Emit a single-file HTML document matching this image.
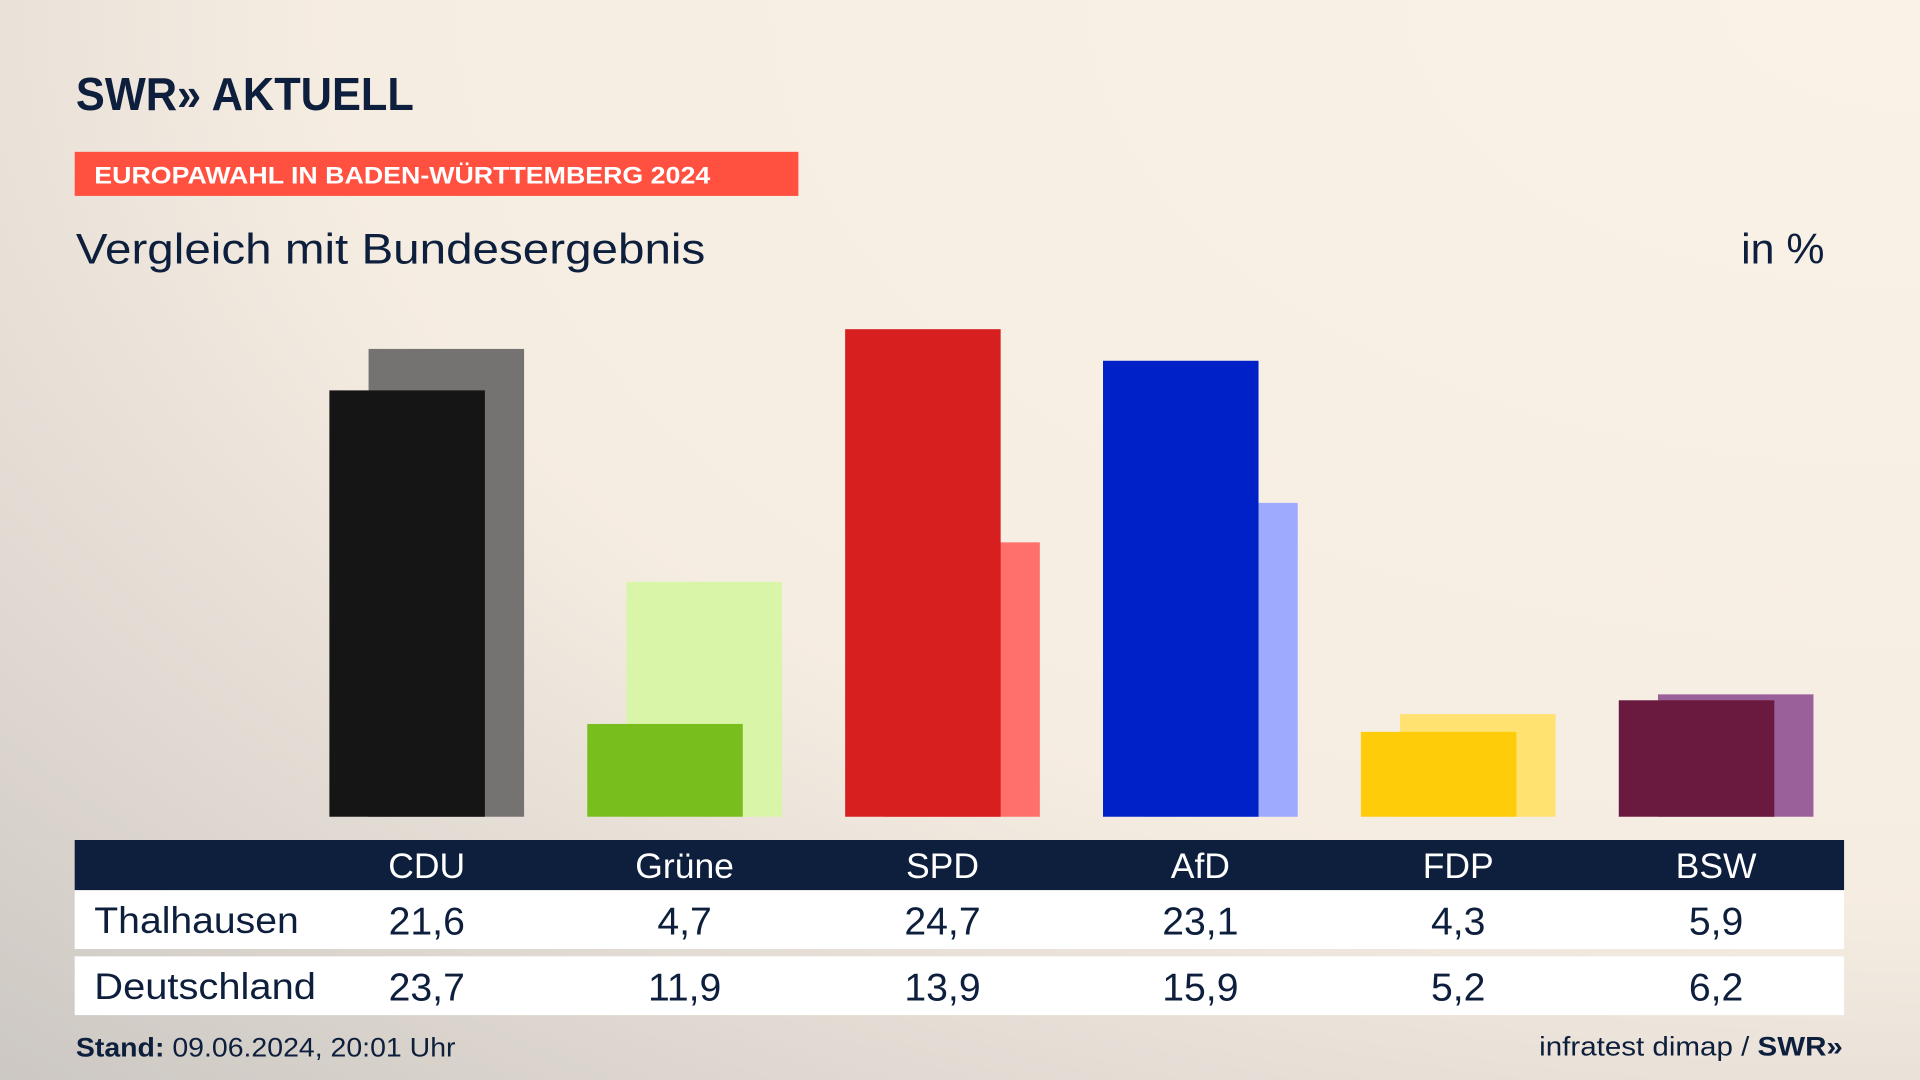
<!DOCTYPE html>
<html><head><meta charset="utf-8"><style>
html,body{margin:0;padding:0;width:1920px;height:1080px;overflow:hidden}
svg{display:block}
text{font-family:"Liberation Sans","DejaVu Sans",sans-serif}
</style></head><body>
<svg id="chart" width="1920" height="1080" viewBox="0 0 1568 882" xmlns="http://www.w3.org/2000/svg">
<defs>
<radialGradient id="bg" cx="1" cy="0" r="1.5">
<stop offset="0" stop-color="#faf2e7"/><stop offset="0.55" stop-color="#f6ede2"/><stop offset="1" stop-color="#c6c2be"/>
</radialGradient>
</defs>
<rect x="0" y="0" width="1568" height="882" fill="url(#bg)"/>
<text x="62" y="90" font-size="38" font-weight="bold" fill="#0d1f3c" textLength="276" lengthAdjust="spacingAndGlyphs">SWR» AKTUELL</text>
<rect x="61" y="124" width="591" height="36" fill="#ff5040"/>
<text x="77" y="150" font-size="20" font-weight="bold" fill="#fff" textLength="503" lengthAdjust="spacingAndGlyphs">EUROPAWAHL IN BADEN-WÜRTTEMBERG 2024</text>
<text x="62" y="215" font-size="35" fill="#0d1f3c" textLength="514" lengthAdjust="spacingAndGlyphs">Vergleich mit Bundesergebnis</text>
<text x="1490" y="215" font-size="35" fill="#0d1f3c" text-anchor="end">in %</text>
<g id="bars"></g>
<rect x="61" y="686" width="1445" height="41" fill="#0d1f3c"/>
<rect x="61" y="727" width="1445" height="48" fill="#fff"/>
<rect x="61" y="781" width="1445" height="48" fill="#fff"/>
<text x="77" y="762" font-size="30" fill="#0d1f3c" textLength="167" lengthAdjust="spacingAndGlyphs">Thalhausen</text>
<text x="77" y="816" font-size="30" fill="#0d1f3c" textLength="181" lengthAdjust="spacingAndGlyphs">Deutschland</text>
<g id="table"></g>
<text x="62" y="863" font-size="22" fill="#0d1f3c" textLength="310" lengthAdjust="spacingAndGlyphs"><tspan font-weight="bold">Stand:</tspan> 09.06.2024, 20:01 Uhr</text>
<text x="1257" y="862" font-size="22" fill="#0d1f3c" textLength="248" lengthAdjust="spacingAndGlyphs">infratest dimap / <tspan font-weight="bold">SWR»</tspan></text>
</svg>
<script>
const parties = ["CDU","Grüne","SPD","AfD","FDP","BSW"];
const local = [21.6,4.7,24.7,23.1,4.3,5.9];
const national = [23.7,11.9,13.9,15.9,5.2,6.2];
const frontColors = ["#151515","#78be1d","#d71f1f","#0021c8","#ffcc0a","#6b1a3f"];
const backColors = ["#757371","#d8f5a8","#ff6f6b","#9dabff","#ffe270","#9a609a"];
const NS="http://www.w3.org/2000/svg";
const base=667, pxPer=16.12, x0=269, step=210.6, bw=127, off=32;
const y=v=>base-v*pxPer;
const bars=document.getElementById('bars'), table=document.getElementById('table');
const fmt=v=>v.toFixed(1).replace('.',',');
parties.forEach((p,i)=>{
  const gx=x0+i*step;
  const b=document.createElementNS(NS,'rect');
  b.setAttribute('x',gx+off);b.setAttribute('y',y(national[i]));b.setAttribute('width',bw);b.setAttribute('height',national[i]*pxPer);b.setAttribute('fill',backColors[i]);
  
  
  bars.appendChild(b);
  const f=document.createElementNS(NS,'rect');
  f.setAttribute('x',gx);f.setAttribute('y',y(local[i]));f.setAttribute('width',bw);f.setAttribute('height',local[i]*pxPer);f.setAttribute('fill',frontColors[i]);
  
  
  bars.appendChild(f);
  const cx=gx+(bw+off)/2;
  [[p,717,'#fff','header-'],[fmt(local[i]),763,'#0d1f3c','value-local-'],[fmt(national[i]),817,'#0d1f3c','value-national-']].forEach(([t,yy,c,n])=>{
    const e=document.createElementNS(NS,'text');
    e.setAttribute('x',cx);e.setAttribute('y',yy);e.setAttribute('font-size',n==='header-'?29:32);e.setAttribute('fill',c);e.setAttribute('text-anchor','middle');
    e.textContent=t;
    
    
    table.appendChild(e);
  });
});
</script>
</body></html>
